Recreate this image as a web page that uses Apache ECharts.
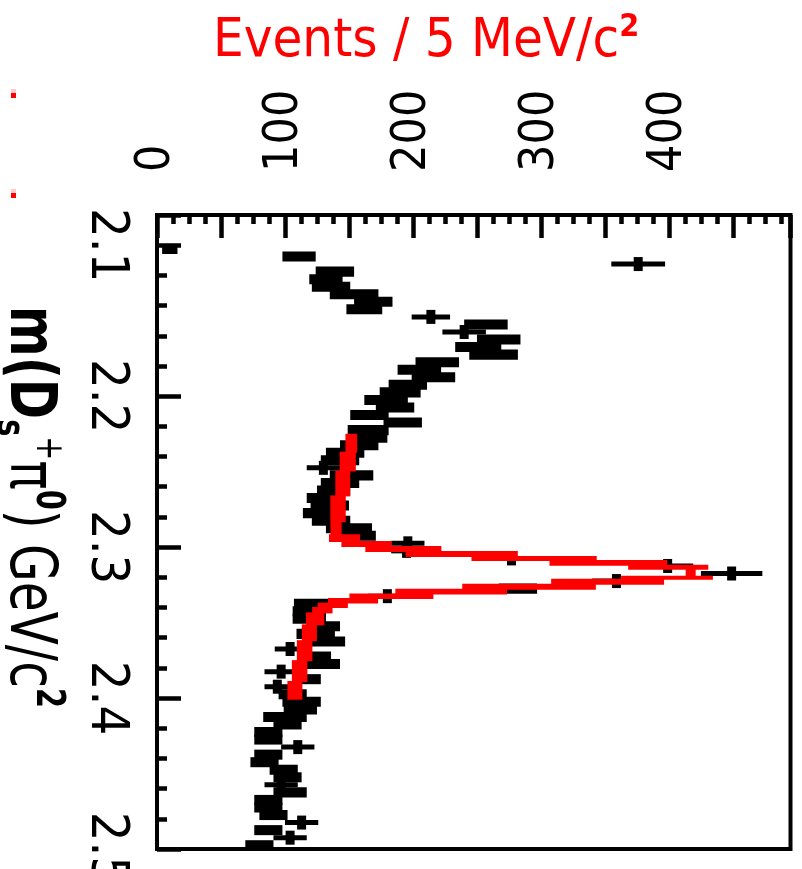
<!DOCTYPE html>
<html><head><meta charset="utf-8">
<script src="https://cdn.jsdelivr.net/npm/echarts@6/dist/echarts.min.js"></script>
<style>html,body{margin:0;padding:0;background:#fff}#c{width:802px;height:869px}</style>
</head><body><div id="c"></div>
<script>
// ---------- data ----------
const massTickLabels = ['2.1', '2.2', '2.3', '2.4', '2.5'];
const eventTickLabels = ['0', '100', '200', '300', '400'];

// data bins drawn as filled error boxes
const boxMass = [2.1025, 2.1075, 2.1175, 2.1225, 2.1275, 2.1325, 2.1375, 2.1425, 2.1525, 2.1625,
  2.1675, 2.1725, 2.1775, 2.1825, 2.1875, 2.1925, 2.1975, 2.2025, 2.2075, 2.2125,
  2.2175, 2.2225, 2.2275, 2.2325, 2.2375, 2.2425, 2.2525, 2.2575, 2.2625, 2.2675,
  2.2725, 2.2775, 2.2825, 2.2875, 2.2925, 2.3275, 2.3375, 2.3425, 2.3475, 2.3525,
  2.3575, 2.3625, 2.3725, 2.3775, 2.3875, 2.3975, 2.4025, 2.4075, 2.4125, 2.4175,
  2.4225, 2.4275, 2.4375, 2.4425, 2.4475, 2.4525, 2.4625, 2.4675, 2.4725, 2.4775,
  2.4875, 2.4975];
const boxCounts = [10, 111, 139, 132, 136, 154, 169, 162, 257, 267,
  251, 263, 219, 205, 216, 196, 190, 179, 186, 166,
  192, 165, 167, 158, 147, 143, 152, 143, 138, 132,
  135, 129, 136, 150, 157, 282, 121, 119, 119, 130,
  124, 134, 124, 130, 117, 106, 113, 112, 100, 102,
  87, 87, 87, 84, 99, 102, 104, 87, 87, 91,
  87, 80];
const boxErrors = [6, 13, 15, 13, 15, 19, 15, 14, 17, 17,
  18, 19, 17, 17, 17, 15, 16, 17, 15, 15,
  15, 16, 13, 15, 15, 15, 17, 15, 13, 15,
  15, 15, 15, 18, 14, 15, 14, 13, 13, 13,
  15, 13, 12, 13, 11, 11, 15, 13, 17, 11,
  11, 11, 11, 11, 11, 11, 13, 11, 11, 11,
  11, 11];

// data bins drawn as marker + error bar
const crossMass = [2.1125, 2.1475, 2.1575, 2.2475, 2.2975, 2.3025, 2.3075, 2.3125, 2.3175,
  2.3225, 2.3325, 2.3675, 2.3825, 2.3925, 2.4325, 2.4575, 2.4825, 2.4925];
const crossCounts = [376, 214, 240, 130, 196, 195, 277, 399, 449,
  359, 180, 104, 97, 94, 110, 97, 113, 104];
const crossErrors = [21, 15, 17, 13, 13, 12, 17, 20, 24,
  19, 15, 12, 13, 10, 13, 13, 13, 13];

// fitted curve
const fitMass = [2.2253, 2.2371, 2.2496, 2.2661, 2.2832, 2.2918, 2.2963, 2.2996, 2.3029, 2.3062,
  2.3088, 2.3121, 2.3147, 2.3193, 2.3213, 2.3246, 2.3279, 2.3311, 2.3341, 2.3371,
  2.3400, 2.3436, 2.3515, 2.3620, 2.3752, 2.3890, 2.4008];
const fitCounts = [152.4, 151.2, 146.9, 143.4, 139.5, 140.3, 152.8, 174.6, 210.4, 265.8,
  323.5, 381.9, 417, 417, 380, 324.2, 257.2, 202.6, 163.7, 142.6,
  132.1, 126.3, 120.8, 117.3, 113.4, 109.5, 106.0];

// ---------- chart ----------
const FONT = "'DejaVu Sans Condensed', 'DejaVu Sans', sans-serif";
const BIN = 0.005;

const boxData = boxMass.map((m, i) => [boxCounts[i], m, boxErrors[i]]);
const crossData = crossMass.map((m, i) => [crossCounts[i], m, crossErrors[i]]);
const fitSegs = [];
for (let i = 0; i < fitMass.length - 1; i++) {
  fitSegs.push([fitCounts[i], fitMass[i], fitCounts[i + 1], fitMass[i + 1]]);
}

function renderBox(params, api) {
  const v = api.value(0), m = api.value(1), e = api.value(2);
  const l = api.coord([v - e, m]);
  const r = api.coord([v + e, m]);
  const h = api.size([0, BIN])[1] + 2.5;
  return {
    type: 'rect',
    shape: { x: l[0], y: l[1] - h / 2, width: r[0] - l[0], height: h },
    style: { fill: '#000' }
  };
}

function renderCross(params, api) {
  const v = api.value(0), m = api.value(1), e = api.value(2);
  const c = api.coord([v, m]);
  const l = api.coord([v - e, m]);
  const r = api.coord([v + e, m]);
  return {
    type: 'group',
    children: [
      { type: 'rect', shape: { x: l[0], y: c[1] - 2.5, width: r[0] - l[0], height: 5 }, style: { fill: '#000' } },
      { type: 'rect', shape: { x: c[0] - 4.5, y: c[1] - 7, width: 9, height: 14 }, style: { fill: '#000' } }
    ]
  };
}

function renderFit(params, api) {
  const a = api.coord([api.value(0), api.value(1)]);
  const b = api.coord([api.value(2), api.value(3)]);
  const dx = Math.abs(b[0] - a[0]);
  const dy = Math.max(Math.abs(b[1] - a[1]), 1);
  const ext = Math.min(5 + 1.1 * dx / dy, 30);
  const x0 = Math.min(a[0], b[0]) - ext;
  const y0 = Math.min(a[1], b[1]) - 0.5;
  return {
    type: 'rect',
    shape: { x: x0, y: y0, width: dx + 2 * ext, height: dy + 1 },
    style: { fill: '#ff0000' }
  };
}

const chart = echarts.init(document.getElementById('c'), null, { renderer: 'canvas' });
chart.setOption({
  animation: false,
  backgroundColor: '#fff',
  title: {
    text: '{a|Events / 5 MeV/c}{s|2}',
    left: 213, top: 12, padding: 0,
    textStyle: {
      color: '#ff0000', fontSize: 54, fontWeight: 'normal', fontFamily: FONT,
      rich: {
        a: { color: '#ff0000', fontSize: 54, fontFamily: FONT, lineHeight: 60 },
        s: { color: '#ff0000', fontSize: 32, fontWeight: 'bold', fontFamily: FONT, lineHeight: 44, verticalAlign: 'top' }
      }
    }
  },
  grid: {
    left: 157, top: 215, right: 11.5, bottom: 20, outerBoundsMode: 'none', containLabel: false,
    show: true, borderColor: '#000', borderWidth: 4, backgroundColor: 'transparent'
  },
  xAxis: {
    type: 'value', position: 'top', min: 0, max: 495, interval: 50,
    axisLine: { show: false },
    splitLine: { show: false },
    axisTick: { show: true, inside: true, length: 23, lineStyle: { color: '#000', width: 4.5 } },
    minorTick: { show: true, splitNumber: 4, length: 9, lineStyle: { color: '#000', width: 4.5 } },
    axisLabel: {
      rotate: -90, margin: 43, fontSize: 48, fontFamily: FONT, color: '#000', interval: 0,
      showMinLabel: true, showMaxLabel: true,
      formatter: v => (eventTickLabels.indexOf(String(v)) >= 0 ? String(v) : '')
    }
  },
  yAxis: {
    type: 'value', inverse: true, min: 2.08, max: 2.5, splitNumber: 4, minInterval: 0.1, maxInterval: 0.1,
    axisLine: { show: false },
    splitLine: { show: false },
    axisTick: { show: true, inside: true, length: 24, lineStyle: { color: '#000', width: 4.5 } },
    minorTick: { show: true, splitNumber: 5, length: 10, lineStyle: { color: '#000', width: 4.5 } },
    axisLabel: {
      rotate: -90, margin: 25, fontSize: 52, fontFamily: FONT, color: '#000', interval: 0,
      showMinLabel: true, showMaxLabel: true,
      formatter: v => { const s = v.toFixed(1); return (Math.abs(v - parseFloat(s)) < 1e-6 && massTickLabels.indexOf(s) >= 0) ? s : ''; }
    }
  },
  graphic: [
    {
      type: 'text', x: 27.5, y: 507, rotation: -Math.PI / 2, scaleY: 1.2,
      style: {
        text: '{b|m(D}{bs|s}{sp|+}{n|π}{bsp|0}{n|) GeV/c}{bsp|2}',
        align: 'center', verticalAlign: 'middle',
        rich: {
          b: { fontSize: 54, fontWeight: 'bold', fontFamily: FONT, lineHeight: 64, fill: '#000' },
          n: { fontSize: 54, fontFamily: FONT, lineHeight: 64, fill: '#000' },
          bs: { fontSize: 32, fontWeight: 'bold', fontFamily: FONT, lineHeight: 48, verticalAlign: 'bottom', fill: '#000' },
          sp: { fontSize: 32, fontFamily: FONT, lineHeight: 46, verticalAlign: 'top', fill: '#000' },
          bsp: { fontSize: 32, fontWeight: 'bold', fontFamily: FONT, lineHeight: 46, verticalAlign: 'top', fill: '#000' }
        }
      }
    },
    { type: 'rect', shape: { x: 11, y: 89, width: 5, height: 4 }, style: { fill: '#ffcccc' } },
    { type: 'rect', shape: { x: 11, y: 93, width: 5, height: 5 }, style: { fill: '#ff0000' } },
    { type: 'rect', shape: { x: 11, y: 189, width: 5, height: 4 }, style: { fill: '#ffcccc' } },
    { type: 'rect', shape: { x: 11, y: 193, width: 5, height: 5 }, style: { fill: '#ff0000' } }
  ],
  series: [
    { type: 'custom', name: 'data', renderItem: renderBox, data: boxData, encode: { x: 0, y: 1 }, z: 2 },
    { type: 'custom', name: 'data2', renderItem: renderCross, data: crossData, encode: { x: 0, y: 1 }, z: 3 },
    { type: 'custom', name: 'fit', renderItem: renderFit, data: fitSegs, encode: { x: [0, 2], y: [1, 3] }, z: 4 }
  ]
});
</script>
</body></html>
